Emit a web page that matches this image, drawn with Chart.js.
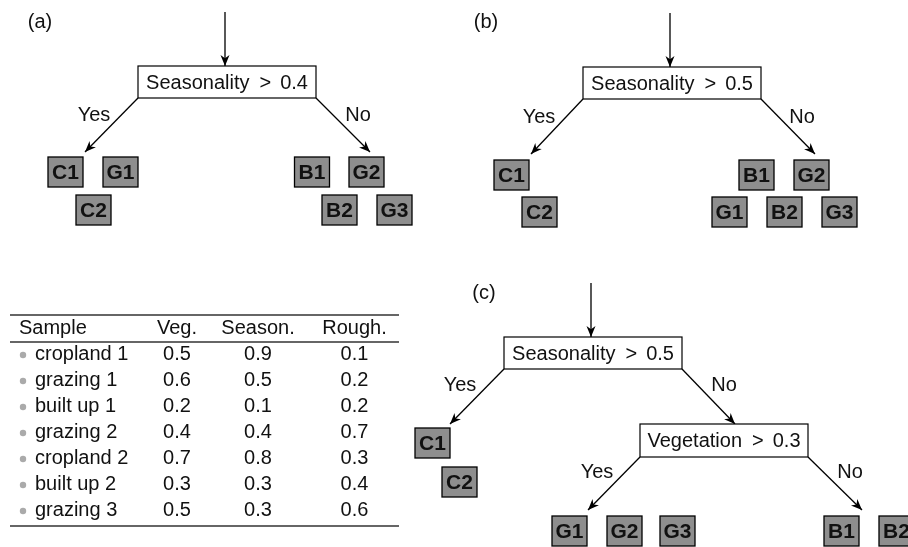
<!DOCTYPE html>
<html>
<head>
<meta charset="utf-8">
<script src="https://cdn.jsdelivr.net/npm/chart.js@4.4.0/dist/chart.umd.min.js"></script>
<style>
  html, body { margin: 0; padding: 0; background: #fff; }
  #wrap { width: 908px; height: 547px; position: relative; }
</style>
</head>
<body>
<div id="wrap"><canvas id="treeChart"></canvas></div>
<script>
// Data: trees and the sample table
const panelLabels = ['(a)', '(b)', '(c)'];
const splitFeatures = ['Seasonality', 'Seasonality', 'Seasonality', 'Vegetation'];
const splitThresholds = ['0.4', '0.5', '0.5', '0.3'];
const branchLabels = ['Yes', 'No'];
const leavesA = ['C1', 'G1', 'C2', 'B1', 'G2', 'B2', 'G3'];
const leavesB = ['C1', 'C2', 'B1', 'G2', 'G1', 'B2', 'G3'];
const leavesC = ['C1', 'C2', 'G1', 'G2', 'G3', 'B1', 'B2'];

const tableHeaders = ['Sample', 'Veg.', 'Season.', 'Rough.'];
const sampleNames = ['cropland 1', 'grazing 1', 'built up 1', 'grazing 2', 'cropland 2', 'built up 2', 'grazing 3'];
const vegValues = ['0.5', '0.6', '0.2', '0.4', '0.7', '0.3', '0.5'];
const seasonValues = ['0.9', '0.5', '0.1', '0.4', '0.8', '0.3', '0.3'];
const roughValues = ['0.1', '0.2', '0.2', '0.7', '0.3', '0.4', '0.6'];

// Layout (in the chart's own x/y units, 0..908 by 0..547)
const panelPos = [[40, 22], [486, 22], [484, 293]];
const splitBoxes = [
  { x0: 138, x1: 316, y0: 66, y1: 98 },
  { x0: 583, x1: 761, y0: 67, y1: 99 },
  { x0: 504, x1: 682, y0: 337, y1: 369 },
  { x0: 640, x1: 808, y0: 424, y1: 457 }
];
const entryArrows = [[225, 12, 225, 66], [670, 13, 670, 67], [591, 283, 591, 337]];
const yesTips = [[85, 152], [531, 154], [450, 424], [588, 510]];
const noTips = [[370, 152], [815, 154], [735, 424], [862, 510]];
const yesLabelPos = [[94, 115], [539, 117], [460, 385], [597, 472]];
const noLabelPos = [[358, 115], [802, 117], [724, 385], [850, 472]];
const leafPosA = [[65.5, 172], [120.5, 172], [93.5, 210], [312, 172], [366.5, 172], [339.5, 210], [394.5, 210]];
const leafPosB = [[511.5, 175], [539.5, 212], [756.5, 175], [811.5, 175], [729.5, 212], [784.5, 212], [839.5, 212]];
const leafPosC = [[432.5, 443], [459.5, 482], [569.5, 531], [624.5, 531], [677.5, 531], [841.5, 531], [896.5, 531]];
const tableCols = [19, 177, 258, 354.5];
const tableRules = [315, 342, 526];
const firstRowY = 354, rowStep = 26;

const FONT = "'Liberation Sans', Helvetica, Arial, sans-serif";

// build one line dataset per arrow
const arrowSets = [];
function addArrow(x0, y0, x1, y1) {
  arrowSets.push({
    type: 'scatter',
    data: [{ x: x0, y: y0 }, { x: x1, y: y1 }],
    showLine: true,
    borderColor: '#000',
    borderWidth: 1.3,
    pointRadius: 0,
    isArrow: true
  });
}
entryArrows.forEach(a => addArrow(a[0], a[1], a[2], a[3]));
splitBoxes.forEach((b, i) => {
  addArrow(b.x0, b.y1, yesTips[i][0], yesTips[i][1]);
  addArrow(b.x1, b.y1, noTips[i][0], noTips[i][1]);
});

// Draw boxes, text, arrowheads and the table
const diagramPlugin = {
  id: 'diagram',
  afterDatasetsDraw(chart) {
    const ctx = chart.ctx;
    const X = v => chart.scales.x.getPixelForValue(v);
    const Y = v => chart.scales.y.getPixelForValue(v);
    ctx.save();

    // arrowheads
    chart.data.datasets.forEach((ds, i) => {
      if (!ds.isArrow) return;
      const pts = chart.getDatasetMeta(i).data;
      const p0 = pts[0], p1 = pts[1];
      const ang = Math.atan2(p1.y - p0.y, p1.x - p0.x);
      const len = 11, half = 4.5;
      ctx.beginPath();
      ctx.moveTo(p1.x, p1.y);
      ctx.lineTo(p1.x - len * Math.cos(ang) + half * Math.sin(ang), p1.y - len * Math.sin(ang) - half * Math.cos(ang));
      ctx.lineTo(p1.x - len * 0.7 * Math.cos(ang), p1.y - len * 0.7 * Math.sin(ang));
      ctx.lineTo(p1.x - len * Math.cos(ang) - half * Math.sin(ang), p1.y - len * Math.sin(ang) + half * Math.cos(ang));
      ctx.closePath();
      ctx.fillStyle = '#000';
      ctx.fill();
    });

    ctx.textBaseline = 'middle';
    ctx.fillStyle = '#111';

    // panel labels
    ctx.font = '20px ' + FONT;
    ctx.textAlign = 'center';
    panelLabels.forEach((t, i) => ctx.fillText(t, X(panelPos[i][0]), Y(panelPos[i][1])));

    // split boxes
    splitBoxes.forEach((b, i) => {
      const x0 = X(b.x0), x1 = X(b.x1), y0 = Y(b.y0), y1 = Y(b.y1);
      ctx.fillStyle = '#fff';
      ctx.fillRect(x0, y0, x1 - x0, y1 - y0);
      ctx.strokeStyle = '#000';
      ctx.lineWidth = 1.2;
      ctx.strokeRect(x0, y0, x1 - x0, y1 - y0);
      ctx.fillStyle = '#111';
      ctx.font = '20px ' + FONT;
      ctx.textAlign = 'left';
      const left = splitFeatures[i], right = splitThresholds[i], op = '>';
      const wl = ctx.measureText(left).width, wr = ctx.measureText(right).width, wo = ctx.measureText(op).width;
      const gapL = 10, gapR = 9;
      const total = wl + gapL + wo + gapR + wr;
      let sx = (x0 + x1) / 2 - total / 2;
      const cy = (y0 + y1) / 2 + 1;
      ctx.fillText(left, sx, cy);
      sx += wl + gapL;
      ctx.fillText(op, sx, cy);
      sx += wo + gapR;
      ctx.fillText(right, sx, cy);

      ctx.textAlign = 'center';
      ctx.fillText(branchLabels[0], X(yesLabelPos[i][0]), Y(yesLabelPos[i][1]));
      ctx.fillText(branchLabels[1], X(noLabelPos[i][0]), Y(noLabelPos[i][1]));
    });

    // leaves
    const drawLeaves = (labels, pos) => {
      labels.forEach((t, i) => {
        const cx = X(pos[i][0]), cy = Y(pos[i][1]);
        const w = 35, h = 30;
        ctx.fillStyle = '#8e8e8e';
        ctx.fillRect(cx - w / 2, cy - h / 2, w, h);
        ctx.strokeStyle = '#000';
        ctx.lineWidth = 1.3;
        ctx.strokeRect(cx - w / 2, cy - h / 2, w, h);
        ctx.fillStyle = '#111';
        ctx.font = 'bold 21px ' + FONT;
        ctx.textAlign = 'center';
        ctx.fillText(t, cx, cy + 1);
      });
    };
    drawLeaves(leavesA, leafPosA);
    drawLeaves(leavesB, leafPosB);
    drawLeaves(leavesC, leafPosC);

    // table
    ctx.strokeStyle = '#333';
    ctx.lineWidth = 1.4;
    tableRules.forEach(r => {
      ctx.beginPath();
      ctx.moveTo(X(10), Y(r));
      ctx.lineTo(X(399), Y(r));
      ctx.stroke();
    });
    ctx.font = '20px ' + FONT;
    ctx.fillStyle = '#111';
    tableHeaders.forEach((h, j) => {
      ctx.textAlign = j === 0 ? 'left' : 'center';
      ctx.fillText(h, X(tableCols[j]), Y(328));
    });
    sampleNames.forEach((name, i) => {
      const cy = Y(firstRowY + i * rowStep);
      ctx.fillStyle = '#aaa';
      ctx.beginPath();
      ctx.arc(X(23), cy + 1, 3.2, 0, Math.PI * 2);
      ctx.fill();
      ctx.fillStyle = '#111';
      ctx.textAlign = 'left';
      ctx.fillText(name, X(35), cy);
      ctx.textAlign = 'center';
      ctx.fillText(vegValues[i], X(tableCols[1]), cy);
      ctx.fillText(seasonValues[i], X(tableCols[2]), cy);
      ctx.fillText(roughValues[i], X(tableCols[3]), cy);
    });

    ctx.restore();
  }
};

const chart = new Chart(document.getElementById('treeChart'), {
  type: 'scatter',
  data: { datasets: arrowSets },
  options: {
    responsive: true,
    maintainAspectRatio: false,
    animation: false,
    events: [],
    layout: { padding: 0 },
    plugins: { legend: { display: false }, tooltip: { enabled: false } },
    scales: {
      x: { type: 'linear', min: 0, max: 908, display: false },
      y: { type: 'linear', min: 0, max: 547, reverse: true, display: false }
    }
  },
  plugins: [diagramPlugin]
});
</script>
</body>
</html>
